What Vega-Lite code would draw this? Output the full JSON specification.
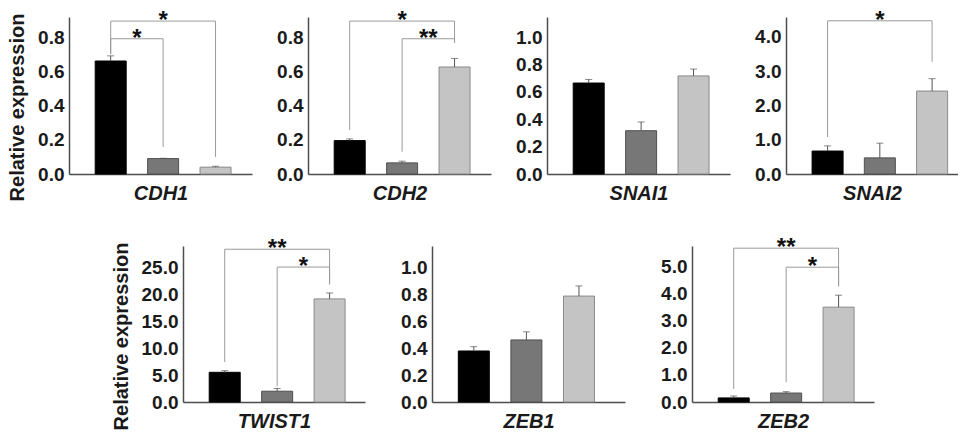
{
  "$schema": "https://vega.github.io/schema/vega-lite/v6.json",
  "padding": {"left": 7, "top": 8, "right": 0, "bottom": 0},
  "background": "white",
  "datasets": {
    "bars": [
      {"gene": "CDH1", "grp": 1, "value": 0.66, "hi": 0.69},
      {"gene": "CDH1", "grp": 2, "value": 0.09, "hi": 0.092},
      {"gene": "CDH1", "grp": 3, "value": 0.04, "hi": 0.045},
      {"gene": "CDH2", "grp": 1, "value": 0.195, "hi": 0.205},
      {"gene": "CDH2", "grp": 2, "value": 0.065, "hi": 0.075},
      {"gene": "CDH2", "grp": 3, "value": 0.625, "hi": 0.675},
      {"gene": "SNAI1", "grp": 1, "value": 0.664, "hi": 0.69},
      {"gene": "SNAI1", "grp": 2, "value": 0.316, "hi": 0.38},
      {"gene": "SNAI1", "grp": 3, "value": 0.716, "hi": 0.766},
      {"gene": "SNAI2", "grp": 1, "value": 0.67, "hi": 0.82},
      {"gene": "SNAI2", "grp": 2, "value": 0.47, "hi": 0.9},
      {"gene": "SNAI2", "grp": 3, "value": 2.42, "hi": 2.78},
      {"gene": "TWIST1", "grp": 1, "value": 5.5, "hi": 5.8},
      {"gene": "TWIST1", "grp": 2, "value": 2.0, "hi": 2.5},
      {"gene": "TWIST1", "grp": 3, "value": 19.1, "hi": 20.2},
      {"gene": "ZEB1", "grp": 1, "value": 0.378, "hi": 0.41},
      {"gene": "ZEB1", "grp": 2, "value": 0.46, "hi": 0.52},
      {"gene": "ZEB1", "grp": 3, "value": 0.785, "hi": 0.86},
      {"gene": "ZEB2", "grp": 1, "value": 0.15, "hi": 0.22},
      {"gene": "ZEB2", "grp": 2, "value": 0.33, "hi": 0.38},
      {"gene": "ZEB2", "grp": 3, "value": 3.49, "hi": 3.93}
    ],
    "brackets": [
      {"gene": "CDH1", "x1": 1, "x2": 3, "xm": 2, "yb": 0.893, "yl": 0.70, "yr": 0.10, "label": "*"},
      {"gene": "CDH1", "x1": 1, "x2": 2, "xm": 1.5, "yb": 0.79, "yl": 0.70, "yr": 0.158, "label": "*"},
      {"gene": "CDH2", "x1": 1, "x2": 3, "xm": 2, "yb": 0.893, "yl": 0.257, "yr": 0.765, "label": "*"},
      {"gene": "CDH2", "x1": 2, "x2": 3, "xm": 2.5, "yb": 0.79, "yl": 0.13, "yr": 0.765, "label": "**"},
      {"gene": "SNAI2", "x1": 1, "x2": 3, "xm": 2, "yb": 4.47, "yl": 1.08, "yr": 3.27, "label": "*"},
      {"gene": "TWIST1", "x1": 1, "x2": 3, "xm": 2, "yb": 28.3, "yl": 7.4, "yr": 21.8, "label": "**"},
      {"gene": "TWIST1", "x1": 2, "x2": 3, "xm": 2.5, "yb": 25.0, "yl": 2.9, "yr": 21.8, "label": "*"},
      {"gene": "ZEB2", "x1": 1, "x2": 3, "xm": 2, "yb": 5.66, "yl": 0.48, "yr": 4.26, "label": "**"},
      {"gene": "ZEB2", "x1": 2, "x2": 3, "xm": 2.5, "yb": 4.96, "yl": 0.73, "yr": 4.26, "label": "*"}
    ]
  },
  "spacing": 33,
  "vconcat": [
    {
      "hconcat": [
        {
          "width": 183, "height": 157,
          "layer": [
            {"data": {"name": "bars"}, "transform": [{"filter": {"field": "gene", "equal": "CDH1"}}],
             "mark": {"type": "bar", "width": 31, "strokeWidth": 1},
             "encoding": {
               "x": {"field": "grp", "type": "quantitative", "title": "CDH1", "scale": {"domain": [0.3, 3.6], "nice": false, "zero": false}},
               "y": {"field": "value", "type": "quantitative", "title": "Relative expression", "scale": {"domain": [0, 0.917], "nice": false}, "axis": {"values": [0, 0.2, 0.4, 0.6, 0.8]}},
               "fill": {"field": "grp", "type": "nominal", "scale": {"domain": [1, 2, 3], "range": ["#000000", "#777777", "#c4c4c4"]}, "legend": null},
               "stroke": {"field": "grp", "type": "nominal", "scale": {"domain": [1, 2, 3], "range": ["#000000", "#505050", "#8a8a8a"]}, "legend": null}}},
            {"data": {"name": "bars"}, "transform": [{"filter": {"field": "gene", "equal": "CDH1"}}],
             "mark": {"type": "rule", "color": "#555555"},
             "encoding": {"x": {"field": "grp", "type": "quantitative", "title": "CDH1"}, "y": {"field": "value", "type": "quantitative", "title": "Relative expression", "axis": {"values": [0, 0.2, 0.4, 0.6, 0.8]}}, "y2": {"field": "hi"}}},
            {"data": {"name": "bars"}, "transform": [{"filter": {"field": "gene", "equal": "CDH1"}}],
             "mark": {"type": "tick", "orient": "horizontal", "size": 7, "thickness": 1, "color": "#555555"},
             "encoding": {"x": {"field": "grp", "type": "quantitative", "title": "CDH1"}, "y": {"field": "hi", "type": "quantitative", "title": "Relative expression", "axis": {"values": [0, 0.2, 0.4, 0.6, 0.8]}}}},
            {"data": {"name": "brackets"}, "transform": [{"filter": {"field": "gene", "equal": "CDH1"}}],
             "mark": {"type": "rule", "color": "#9a9a9a"},
             "encoding": {"x": {"field": "x1", "type": "quantitative", "title": "CDH1"}, "x2": {"field": "x2"}, "y": {"field": "yb", "type": "quantitative", "title": "Relative expression", "axis": {"values": [0, 0.2, 0.4, 0.6, 0.8]}}}},
            {"data": {"name": "brackets"}, "transform": [{"filter": {"field": "gene", "equal": "CDH1"}}],
             "mark": {"type": "rule", "color": "#9a9a9a"},
             "encoding": {"x": {"field": "x1", "type": "quantitative", "title": "CDH1"}, "y": {"field": "yl", "type": "quantitative", "title": "Relative expression", "axis": {"values": [0, 0.2, 0.4, 0.6, 0.8]}}, "y2": {"field": "yb"}}},
            {"data": {"name": "brackets"}, "transform": [{"filter": {"field": "gene", "equal": "CDH1"}}],
             "mark": {"type": "rule", "color": "#9a9a9a"},
             "encoding": {"x": {"field": "x2", "type": "quantitative", "title": "CDH1"}, "y": {"field": "yr", "type": "quantitative", "title": "Relative expression", "axis": {"values": [0, 0.2, 0.4, 0.6, 0.8]}}, "y2": {"field": "yb"}}},
            {"data": {"name": "brackets"}, "transform": [{"filter": {"field": "gene", "equal": "CDH1"}}],
             "mark": {"type": "text", "fontSize": 24, "font": "Liberation Sans", "fontWeight": "bold", "dy": 7, "baseline": "alphabetic", "color": "#111111"},
             "encoding": {"x": {"field": "xm", "type": "quantitative", "title": "CDH1"}, "y": {"field": "yb", "type": "quantitative", "title": "Relative expression", "axis": {"values": [0, 0.2, 0.4, 0.6, 0.8]}}, "text": {"field": "label"}}}
          ]
        },
        {
          "width": 183, "height": 157,
          "layer": [
            {"data": {"name": "bars"}, "transform": [{"filter": {"field": "gene", "equal": "CDH2"}}],
             "mark": {"type": "bar", "width": 31, "strokeWidth": 1},
             "encoding": {
               "x": {"field": "grp", "type": "quantitative", "title": "CDH2", "scale": {"domain": [0.3, 3.6], "nice": false, "zero": false}},
               "y": {"field": "value", "type": "quantitative", "title": null, "scale": {"domain": [0, 0.917], "nice": false}, "axis": {"values": [0, 0.2, 0.4, 0.6, 0.8]}},
               "fill": {"field": "grp", "type": "nominal", "scale": {"domain": [1, 2, 3], "range": ["#000000", "#777777", "#c4c4c4"]}, "legend": null},
               "stroke": {"field": "grp", "type": "nominal", "scale": {"domain": [1, 2, 3], "range": ["#000000", "#505050", "#8a8a8a"]}, "legend": null}}},
            {"data": {"name": "bars"}, "transform": [{"filter": {"field": "gene", "equal": "CDH2"}}],
             "mark": {"type": "rule", "color": "#555555"},
             "encoding": {"x": {"field": "grp", "type": "quantitative", "title": "CDH2"}, "y": {"field": "value", "type": "quantitative", "title": null, "axis": {"values": [0, 0.2, 0.4, 0.6, 0.8]}}, "y2": {"field": "hi"}}},
            {"data": {"name": "bars"}, "transform": [{"filter": {"field": "gene", "equal": "CDH2"}}],
             "mark": {"type": "tick", "orient": "horizontal", "size": 7, "thickness": 1, "color": "#555555"},
             "encoding": {"x": {"field": "grp", "type": "quantitative", "title": "CDH2"}, "y": {"field": "hi", "type": "quantitative", "title": null, "axis": {"values": [0, 0.2, 0.4, 0.6, 0.8]}}}},
            {"data": {"name": "brackets"}, "transform": [{"filter": {"field": "gene", "equal": "CDH2"}}],
             "mark": {"type": "rule", "color": "#9a9a9a"},
             "encoding": {"x": {"field": "x1", "type": "quantitative", "title": "CDH2"}, "x2": {"field": "x2"}, "y": {"field": "yb", "type": "quantitative", "title": null, "axis": {"values": [0, 0.2, 0.4, 0.6, 0.8]}}}},
            {"data": {"name": "brackets"}, "transform": [{"filter": {"field": "gene", "equal": "CDH2"}}],
             "mark": {"type": "rule", "color": "#9a9a9a"},
             "encoding": {"x": {"field": "x1", "type": "quantitative", "title": "CDH2"}, "y": {"field": "yl", "type": "quantitative", "title": null, "axis": {"values": [0, 0.2, 0.4, 0.6, 0.8]}}, "y2": {"field": "yb"}}},
            {"data": {"name": "brackets"}, "transform": [{"filter": {"field": "gene", "equal": "CDH2"}}],
             "mark": {"type": "rule", "color": "#9a9a9a"},
             "encoding": {"x": {"field": "x2", "type": "quantitative", "title": "CDH2"}, "y": {"field": "yr", "type": "quantitative", "title": null, "axis": {"values": [0, 0.2, 0.4, 0.6, 0.8]}}, "y2": {"field": "yb"}}},
            {"data": {"name": "brackets"}, "transform": [{"filter": {"field": "gene", "equal": "CDH2"}}],
             "mark": {"type": "text", "fontSize": 24, "font": "Liberation Sans", "fontWeight": "bold", "dy": 7, "baseline": "alphabetic", "color": "#111111"},
             "encoding": {"x": {"field": "xm", "type": "quantitative", "title": "CDH2"}, "y": {"field": "yb", "type": "quantitative", "title": null, "axis": {"values": [0, 0.2, 0.4, 0.6, 0.8]}}, "text": {"field": "label"}}}
          ]
        },
        {
          "width": 183, "height": 157,
          "layer": [
            {"data": {"name": "bars"}, "transform": [{"filter": {"field": "gene", "equal": "SNAI1"}}],
             "mark": {"type": "bar", "width": 31, "strokeWidth": 1},
             "encoding": {
               "x": {"field": "grp", "type": "quantitative", "title": "SNAI1", "scale": {"domain": [0.3, 3.6], "nice": false, "zero": false}},
               "y": {"field": "value", "type": "quantitative", "title": null, "scale": {"domain": [0, 1.146], "nice": false}, "axis": {"values": [0, 0.2, 0.4, 0.6, 0.8, 1.0]}},
               "fill": {"field": "grp", "type": "nominal", "scale": {"domain": [1, 2, 3], "range": ["#000000", "#777777", "#c4c4c4"]}, "legend": null},
               "stroke": {"field": "grp", "type": "nominal", "scale": {"domain": [1, 2, 3], "range": ["#000000", "#505050", "#8a8a8a"]}, "legend": null}}},
            {"data": {"name": "bars"}, "transform": [{"filter": {"field": "gene", "equal": "SNAI1"}}],
             "mark": {"type": "rule", "color": "#555555"},
             "encoding": {"x": {"field": "grp", "type": "quantitative", "title": "SNAI1"}, "y": {"field": "value", "type": "quantitative", "title": null, "axis": {"values": [0, 0.2, 0.4, 0.6, 0.8, 1.0]}}, "y2": {"field": "hi"}}},
            {"data": {"name": "bars"}, "transform": [{"filter": {"field": "gene", "equal": "SNAI1"}}],
             "mark": {"type": "tick", "orient": "horizontal", "size": 7, "thickness": 1, "color": "#555555"},
             "encoding": {"x": {"field": "grp", "type": "quantitative", "title": "SNAI1"}, "y": {"field": "hi", "type": "quantitative", "title": null, "axis": {"values": [0, 0.2, 0.4, 0.6, 0.8, 1.0]}}}}
          ]
        },
        {
          "width": 172, "height": 157,
          "layer": [
            {"data": {"name": "bars"}, "transform": [{"filter": {"field": "gene", "equal": "SNAI2"}}],
             "mark": {"type": "bar", "width": 31, "strokeWidth": 1},
             "encoding": {
               "x": {"field": "grp", "type": "quantitative", "title": "SNAI2", "scale": {"domain": [0.3, 3.4], "nice": false, "zero": false}},
               "y": {"field": "value", "type": "quantitative", "title": null, "scale": {"domain": [0, 4.58], "nice": false}, "axis": {"values": [0, 1, 2, 3, 4]}},
               "fill": {"field": "grp", "type": "nominal", "scale": {"domain": [1, 2, 3], "range": ["#000000", "#777777", "#c4c4c4"]}, "legend": null},
               "stroke": {"field": "grp", "type": "nominal", "scale": {"domain": [1, 2, 3], "range": ["#000000", "#505050", "#8a8a8a"]}, "legend": null}}},
            {"data": {"name": "bars"}, "transform": [{"filter": {"field": "gene", "equal": "SNAI2"}}],
             "mark": {"type": "rule", "color": "#555555"},
             "encoding": {"x": {"field": "grp", "type": "quantitative", "title": "SNAI2"}, "y": {"field": "value", "type": "quantitative", "title": null, "axis": {"values": [0, 1, 2, 3, 4]}}, "y2": {"field": "hi"}}},
            {"data": {"name": "bars"}, "transform": [{"filter": {"field": "gene", "equal": "SNAI2"}}],
             "mark": {"type": "tick", "orient": "horizontal", "size": 7, "thickness": 1, "color": "#555555"},
             "encoding": {"x": {"field": "grp", "type": "quantitative", "title": "SNAI2"}, "y": {"field": "hi", "type": "quantitative", "title": null, "axis": {"values": [0, 1, 2, 3, 4]}}}},
            {"data": {"name": "brackets"}, "transform": [{"filter": {"field": "gene", "equal": "SNAI2"}}],
             "mark": {"type": "rule", "color": "#9a9a9a"},
             "encoding": {"x": {"field": "x1", "type": "quantitative", "title": "SNAI2"}, "x2": {"field": "x2"}, "y": {"field": "yb", "type": "quantitative", "title": null, "axis": {"values": [0, 1, 2, 3, 4]}}}},
            {"data": {"name": "brackets"}, "transform": [{"filter": {"field": "gene", "equal": "SNAI2"}}],
             "mark": {"type": "rule", "color": "#9a9a9a"},
             "encoding": {"x": {"field": "x1", "type": "quantitative", "title": "SNAI2"}, "y": {"field": "yl", "type": "quantitative", "title": null, "axis": {"values": [0, 1, 2, 3, 4]}}, "y2": {"field": "yb"}}},
            {"data": {"name": "brackets"}, "transform": [{"filter": {"field": "gene", "equal": "SNAI2"}}],
             "mark": {"type": "rule", "color": "#9a9a9a"},
             "encoding": {"x": {"field": "x2", "type": "quantitative", "title": "SNAI2"}, "y": {"field": "yr", "type": "quantitative", "title": null, "axis": {"values": [0, 1, 2, 3, 4]}}, "y2": {"field": "yb"}}},
            {"data": {"name": "brackets"}, "transform": [{"filter": {"field": "gene", "equal": "SNAI2"}}],
             "mark": {"type": "text", "fontSize": 24, "font": "Liberation Sans", "fontWeight": "bold", "dy": 7, "baseline": "alphabetic", "color": "#111111"},
             "encoding": {"x": {"field": "xm", "type": "quantitative", "title": "SNAI2"}, "y": {"field": "yb", "type": "quantitative", "title": null, "axis": {"values": [0, 1, 2, 3, 4]}}, "text": {"field": "label"}}}
          ]
        }
      ],
      "spacing": 56,
      "bounds": "flush"
    },
    {
      "hconcat": [
        {"width": 47, "height": 156, "data": {"values": []}, "mark": {"type": "point", "opacity": 0}, "encoding": {}},
        {
          "width": 182, "height": 156,
          "layer": [
            {"data": {"name": "bars"}, "transform": [{"filter": {"field": "gene", "equal": "TWIST1"}}],
             "mark": {"type": "bar", "width": 31, "strokeWidth": 1},
             "encoding": {
               "x": {"field": "grp", "type": "quantitative", "title": "TWIST1", "scale": {"domain": [0.3, 3.58], "nice": false, "zero": false}},
               "y": {"field": "value", "type": "quantitative", "title": "Relative expression", "scale": {"domain": [0, 28.9], "nice": false}, "axis": {"values": [0, 5, 10, 15, 20, 25]}},
               "fill": {"field": "grp", "type": "nominal", "scale": {"domain": [1, 2, 3], "range": ["#000000", "#777777", "#c4c4c4"]}, "legend": null},
               "stroke": {"field": "grp", "type": "nominal", "scale": {"domain": [1, 2, 3], "range": ["#000000", "#505050", "#8a8a8a"]}, "legend": null}}},
            {"data": {"name": "bars"}, "transform": [{"filter": {"field": "gene", "equal": "TWIST1"}}],
             "mark": {"type": "rule", "color": "#555555"},
             "encoding": {"x": {"field": "grp", "type": "quantitative", "title": "TWIST1"}, "y": {"field": "value", "type": "quantitative", "title": "Relative expression", "axis": {"values": [0, 5, 10, 15, 20, 25]}}, "y2": {"field": "hi"}}},
            {"data": {"name": "bars"}, "transform": [{"filter": {"field": "gene", "equal": "TWIST1"}}],
             "mark": {"type": "tick", "orient": "horizontal", "size": 7, "thickness": 1, "color": "#555555"},
             "encoding": {"x": {"field": "grp", "type": "quantitative", "title": "TWIST1"}, "y": {"field": "hi", "type": "quantitative", "title": "Relative expression", "axis": {"values": [0, 5, 10, 15, 20, 25]}}}},
            {"data": {"name": "brackets"}, "transform": [{"filter": {"field": "gene", "equal": "TWIST1"}}],
             "mark": {"type": "rule", "color": "#9a9a9a"},
             "encoding": {"x": {"field": "x1", "type": "quantitative", "title": "TWIST1"}, "x2": {"field": "x2"}, "y": {"field": "yb", "type": "quantitative", "title": "Relative expression", "axis": {"values": [0, 5, 10, 15, 20, 25]}}}},
            {"data": {"name": "brackets"}, "transform": [{"filter": {"field": "gene", "equal": "TWIST1"}}],
             "mark": {"type": "rule", "color": "#9a9a9a"},
             "encoding": {"x": {"field": "x1", "type": "quantitative", "title": "TWIST1"}, "y": {"field": "yl", "type": "quantitative", "title": "Relative expression", "axis": {"values": [0, 5, 10, 15, 20, 25]}}, "y2": {"field": "yb"}}},
            {"data": {"name": "brackets"}, "transform": [{"filter": {"field": "gene", "equal": "TWIST1"}}],
             "mark": {"type": "rule", "color": "#9a9a9a"},
             "encoding": {"x": {"field": "x2", "type": "quantitative", "title": "TWIST1"}, "y": {"field": "yr", "type": "quantitative", "title": "Relative expression", "axis": {"values": [0, 5, 10, 15, 20, 25]}}, "y2": {"field": "yb"}}},
            {"data": {"name": "brackets"}, "transform": [{"filter": {"field": "gene", "equal": "TWIST1"}}],
             "mark": {"type": "text", "fontSize": 24, "font": "Liberation Sans", "fontWeight": "bold", "dy": 7, "baseline": "alphabetic", "color": "#111111"},
             "encoding": {"x": {"field": "xm", "type": "quantitative", "title": "TWIST1"}, "y": {"field": "yb", "type": "quantitative", "title": "Relative expression", "axis": {"values": [0, 5, 10, 15, 20, 25]}}, "text": {"field": "label"}}}
          ]
        },
        {
          "width": 193, "height": 156,
          "layer": [
            {"data": {"name": "bars"}, "transform": [{"filter": {"field": "gene", "equal": "ZEB1"}}],
             "mark": {"type": "bar", "width": 31, "strokeWidth": 1},
             "encoding": {
               "x": {"field": "grp", "type": "quantitative", "title": "ZEB1", "scale": {"domain": [0.3, 3.78], "nice": false, "zero": false}},
               "y": {"field": "value", "type": "quantitative", "title": null, "scale": {"domain": [0, 1.156], "nice": false}, "axis": {"values": [0, 0.2, 0.4, 0.6, 0.8, 1.0]}},
               "fill": {"field": "grp", "type": "nominal", "scale": {"domain": [1, 2, 3], "range": ["#000000", "#777777", "#c4c4c4"]}, "legend": null},
               "stroke": {"field": "grp", "type": "nominal", "scale": {"domain": [1, 2, 3], "range": ["#000000", "#505050", "#8a8a8a"]}, "legend": null}}},
            {"data": {"name": "bars"}, "transform": [{"filter": {"field": "gene", "equal": "ZEB1"}}],
             "mark": {"type": "rule", "color": "#555555"},
             "encoding": {"x": {"field": "grp", "type": "quantitative", "title": "ZEB1"}, "y": {"field": "value", "type": "quantitative", "title": null, "axis": {"values": [0, 0.2, 0.4, 0.6, 0.8, 1.0]}}, "y2": {"field": "hi"}}},
            {"data": {"name": "bars"}, "transform": [{"filter": {"field": "gene", "equal": "ZEB1"}}],
             "mark": {"type": "tick", "orient": "horizontal", "size": 7, "thickness": 1, "color": "#555555"},
             "encoding": {"x": {"field": "grp", "type": "quantitative", "title": "ZEB1"}, "y": {"field": "hi", "type": "quantitative", "title": null, "axis": {"values": [0, 0.2, 0.4, 0.6, 0.8, 1.0]}}}}
          ]
        },
        {
          "width": 182, "height": 156,
          "layer": [
            {"data": {"name": "bars"}, "transform": [{"filter": {"field": "gene", "equal": "ZEB2"}}],
             "mark": {"type": "bar", "width": 31, "strokeWidth": 1},
             "encoding": {
               "x": {"field": "grp", "type": "quantitative", "title": "ZEB2", "scale": {"domain": [0.3, 3.58], "nice": false, "zero": false}},
               "y": {"field": "value", "type": "quantitative", "title": null, "scale": {"domain": [0, 5.74], "nice": false}, "axis": {"values": [0, 1, 2, 3, 4, 5]}},
               "fill": {"field": "grp", "type": "nominal", "scale": {"domain": [1, 2, 3], "range": ["#000000", "#777777", "#c4c4c4"]}, "legend": null},
               "stroke": {"field": "grp", "type": "nominal", "scale": {"domain": [1, 2, 3], "range": ["#000000", "#505050", "#8a8a8a"]}, "legend": null}}},
            {"data": {"name": "bars"}, "transform": [{"filter": {"field": "gene", "equal": "ZEB2"}}],
             "mark": {"type": "rule", "color": "#555555"},
             "encoding": {"x": {"field": "grp", "type": "quantitative", "title": "ZEB2"}, "y": {"field": "value", "type": "quantitative", "title": null, "axis": {"values": [0, 1, 2, 3, 4, 5]}}, "y2": {"field": "hi"}}},
            {"data": {"name": "bars"}, "transform": [{"filter": {"field": "gene", "equal": "ZEB2"}}],
             "mark": {"type": "tick", "orient": "horizontal", "size": 7, "thickness": 1, "color": "#555555"},
             "encoding": {"x": {"field": "grp", "type": "quantitative", "title": "ZEB2"}, "y": {"field": "hi", "type": "quantitative", "title": null, "axis": {"values": [0, 1, 2, 3, 4, 5]}}}},
            {"data": {"name": "brackets"}, "transform": [{"filter": {"field": "gene", "equal": "ZEB2"}}],
             "mark": {"type": "rule", "color": "#9a9a9a"},
             "encoding": {"x": {"field": "x1", "type": "quantitative", "title": "ZEB2"}, "x2": {"field": "x2"}, "y": {"field": "yb", "type": "quantitative", "title": null, "axis": {"values": [0, 1, 2, 3, 4, 5]}}}},
            {"data": {"name": "brackets"}, "transform": [{"filter": {"field": "gene", "equal": "ZEB2"}}],
             "mark": {"type": "rule", "color": "#9a9a9a"},
             "encoding": {"x": {"field": "x1", "type": "quantitative", "title": "ZEB2"}, "y": {"field": "yl", "type": "quantitative", "title": null, "axis": {"values": [0, 1, 2, 3, 4, 5]}}, "y2": {"field": "yb"}}},
            {"data": {"name": "brackets"}, "transform": [{"filter": {"field": "gene", "equal": "ZEB2"}}],
             "mark": {"type": "rule", "color": "#9a9a9a"},
             "encoding": {"x": {"field": "x2", "type": "quantitative", "title": "ZEB2"}, "y": {"field": "yr", "type": "quantitative", "title": null, "axis": {"values": [0, 1, 2, 3, 4, 5]}}, "y2": {"field": "yb"}}},
            {"data": {"name": "brackets"}, "transform": [{"filter": {"field": "gene", "equal": "ZEB2"}}],
             "mark": {"type": "text", "fontSize": 24, "font": "Liberation Sans", "fontWeight": "bold", "dy": 7, "baseline": "alphabetic", "color": "#111111"},
             "encoding": {"x": {"field": "xm", "type": "quantitative", "title": "ZEB2"}, "y": {"field": "yb", "type": "quantitative", "title": null, "axis": {"values": [0, 1, 2, 3, 4, 5]}}, "text": {"field": "label"}}}
          ]
        }
      ],
      "spacing": 67,
      "bounds": "flush"
    }
  ],
  "config": {
    "view": {"stroke": null},
    "axisY": {"grid": false, "ticks": false, "labelOverlap": false, "domainColor": "#4d4d4d", "domainWidth": 1.5, "labelPadding": 5, "labelFont": "Liberation Sans", "labelFontSize": 19, "labelFontWeight": "bold", "labelColor": "#1a1a1a", "format": ".1f", "titleFont": "Liberation Sans", "titleFontSize": 20, "titleFontWeight": "bold", "titleColor": "#1a1a1a", "titlePadding": 10, "titleY": 90},
    "axisX": {"grid": false, "ticks": false, "labels": false, "domainColor": "#4d4d4d", "domainWidth": 1.5, "titleFont": "Liberation Sans", "titleFontSize": 20, "titleFontWeight": "bold", "titleFontStyle": "italic", "titleColor": "#1a1a1a", "titlePadding": 9}
  }
}
